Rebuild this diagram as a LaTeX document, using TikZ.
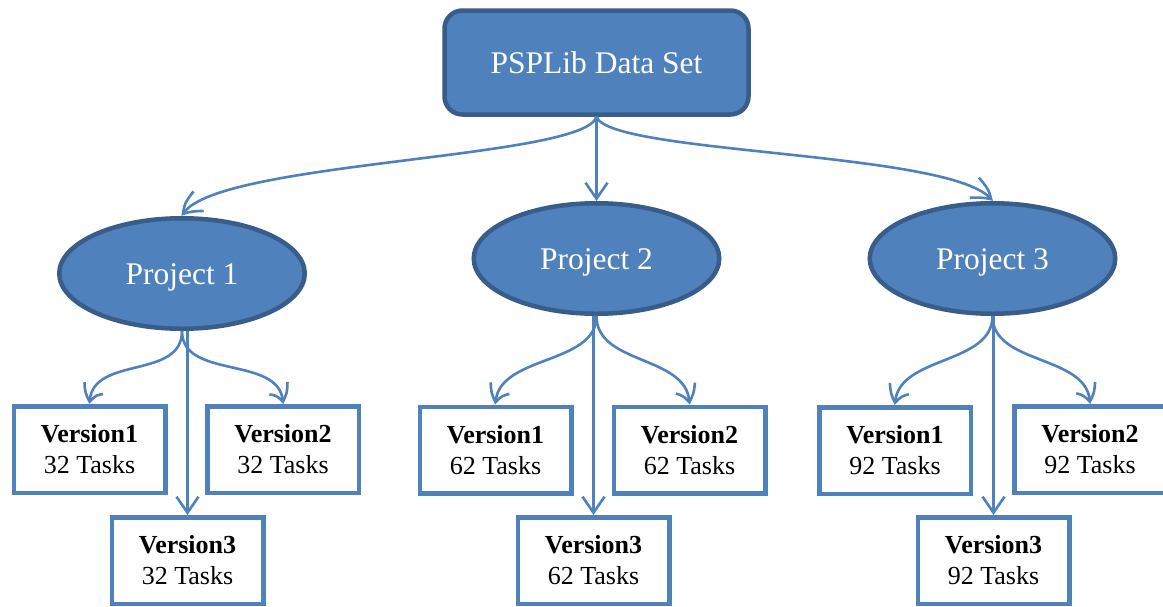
\documentclass[tikz,border=0pt]{standalone}
\usepackage{fontspec}
\setmainfont{Liberation Serif}
\usetikzlibrary{arrows.meta,bending,shapes.geometric}
\definecolor{accent}{HTML}{4F81BD}
\definecolor{accentdark}{HTML}{385D8A}
\begin{document}
\begin{tikzpicture}[x=1pt,y=1pt,
  rootbox/.style={draw=accentdark, fill=accent, line width=4.5pt, rounded corners=18pt,
    minimum width=304pt, minimum height=104pt, inner sep=0pt, text=white,
    font=\fontsize{31.5}{36}\selectfont, text height=21pt, text depth=0pt},
  projnode/.style={ellipse, draw=accentdark, fill=accent, line width=4.5pt,
    minimum width=245.5pt, minimum height=110.5pt, inner sep=0pt, text=white,
    font=\fontsize{31.5}{36}\selectfont, text height=21pt, text depth=0pt},
  verbox/.style={draw=accent, fill=white, line width=4.5pt, minimum width=151.5pt,
    minimum height=86.5pt, inner sep=0pt, align=center,
    font=\fontsize{26}{31}\selectfont},
  link/.style={draw=accent, line width=2.6pt,
    -{Straight Barb[length=16pt,width=22pt,bend]}}
]
\useasboundingbox (0,0) rectangle (1163,-606);

% root of the hierarchy
\node[rootbox] (root) at (596.5,-62.5) {PSPLib Data Set};

% projects
\node[projnode] (p1) at (182,-273.5) {Project 1};
\node[projnode] (p2) at (596.5,-258.5) {Project 2};
\node[projnode] (p3) at (992.5,-258.5) {Project 3};

% versions of project 1
\node[verbox] (v11) at (89.5,-449.5) {\textbf{Version1}\\32 Tasks};
\node[verbox] (v12) at (283,-449.5) {\textbf{Version2}\\32 Tasks};
\node[verbox] (v13) at (187.5,-560.5) {\textbf{Version3}\\32 Tasks};

% versions of project 2
\node[verbox] (v21) at (495.5,-450) {\textbf{Version1}\\62 Tasks};
\node[verbox] (v22) at (689.5,-450) {\textbf{Version2}\\62 Tasks};
\node[verbox] (v23) at (593.5,-560.5) {\textbf{Version3}\\62 Tasks};

% versions of project 3
\node[verbox] (v31) at (895,-450.5) {\textbf{Version1}\\92 Tasks};
\node[verbox] (v32) at (1090,-449.5) {\textbf{Version2}\\92 Tasks};
\node[verbox] (v33) at (993.5,-560.5) {\textbf{Version3}\\92 Tasks};

% data set -> projects
\draw[link] (root.south) .. controls +(-12,-43) and +(23,55) .. (p1.north);
\draw[link] (root.south) -- (p2.north);
\draw[link] (root.south) .. controls +(13,-38) and +(-32,50) .. (p3.north);

% projects -> versions
\foreach \i in {1,2,3}{
  \draw[link] (p\i.south) .. controls +(0,-50) and +(0,50) .. (v\i1.north);
  \draw[link] (p\i.south) .. controls +(0,-50) and +(0,50) .. (v\i2.north);
  \draw[link] (p\i.south -| v\i3.north) -- (v\i3.north);
}
\end{tikzpicture}
\end{document}
